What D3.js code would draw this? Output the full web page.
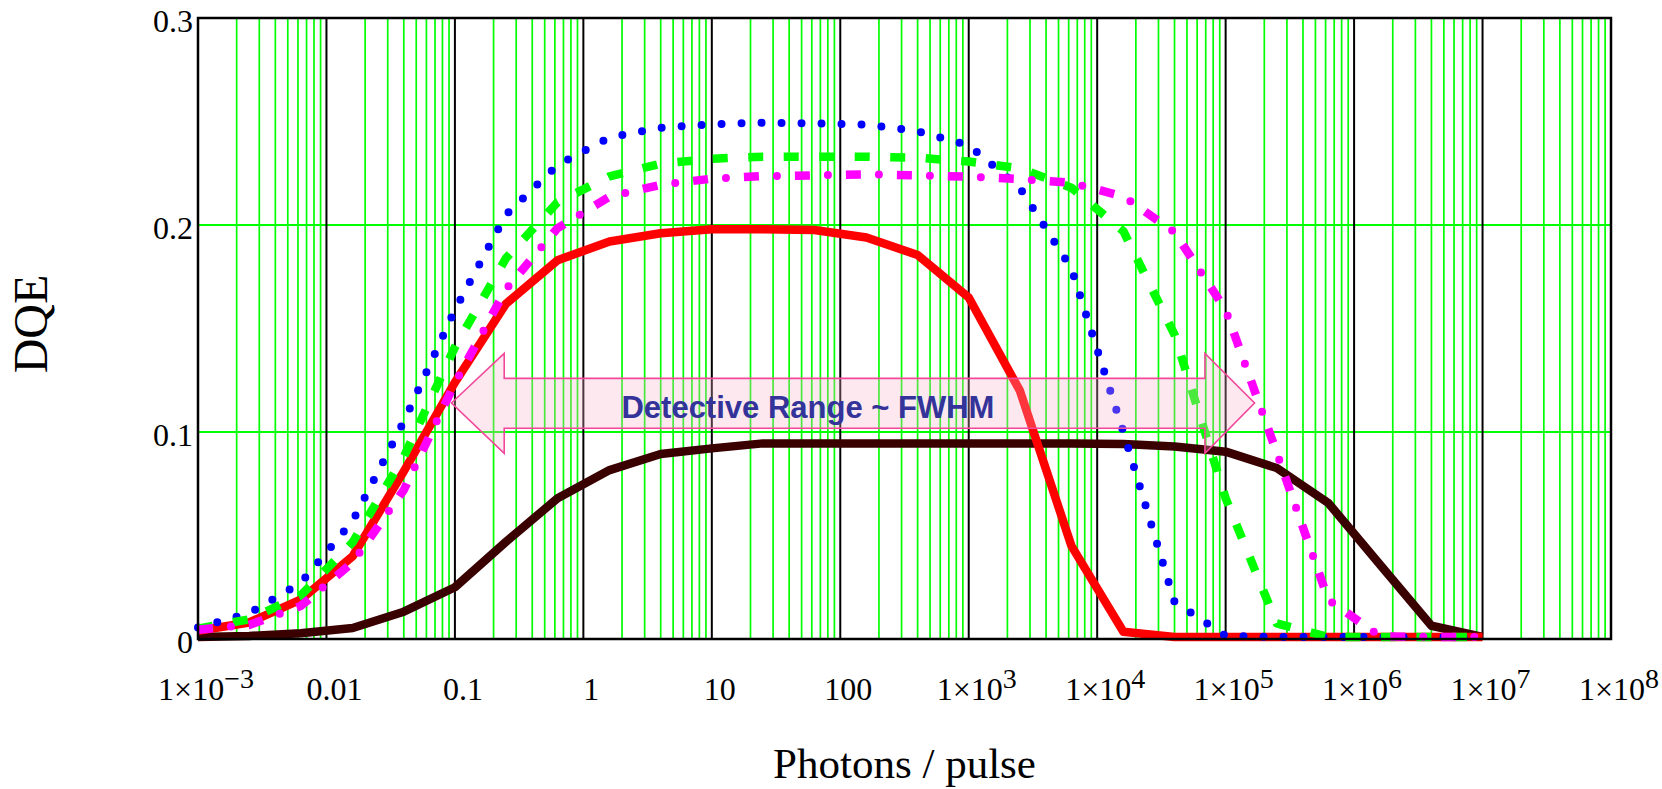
<!DOCTYPE html>
<html>
<head>
<meta charset="utf-8">
<script src="https://cdn.jsdelivr.net/npm/d3@7"></script>
<style>
  html, body { margin: 0; padding: 0; background: #fff; }
  #chart { width: 1662px; height: 789px; }
  .chart__tick { font-family: "Liberation Serif", "Times New Roman", serif; font-size: 32px; fill: #000; }
  .chart__title { font-family: "Liberation Serif", "Times New Roman", serif; fill: #000; }
  .chart__note { font-family: "Liberation Sans", Arial, sans-serif; font-weight: bold; font-size: 31px; fill: #333399; }
</style>
</head>
<body>
<div id="chart"></div>
<script>
// Photons per pulse (x values shared by every curve)
const photons = [0.001, 0.0025, 0.0063, 0.016, 0.04, 0.1, 0.25, 0.63, 1.6, 4, 10, 25, 63, 160,
    400, 1000, 2500, 6300, 16000, 40000, 100000, 250000, 630000, 1600000, 4000000, 10000000];

// DQE curves
const dqeRed = [0.004, 0.008, 0.019, 0.040, 0.081, 0.124, 0.162, 0.183, 0.192, 0.196, 0.198, 0.198, 0.1976,
    0.194, 0.1855, 0.165, 0.120, 0.045, 0.0035, 0.001, 0.001, 0.001, 0.001, 0.001, 0.001, 0.001];
const dqeBrown = [0.001, 0.0015, 0.0028, 0.0053, 0.0132, 0.025, 0.047, 0.068, 0.0816, 0.0894, 0.0921, 0.0945, 0.0945,
    0.0945, 0.0945, 0.0945, 0.0945, 0.0945, 0.0942, 0.093, 0.0905, 0.0826, 0.0657, 0.0357, 0.0064, 0.001];
const dqeBlue = [0.0055, 0.0124, 0.027, 0.057, 0.105, 0.159, 0.205, 0.229, 0.2423, 0.247, 0.2487, 0.2494, 0.2491,
    0.2485, 0.2453, 0.2385, 0.218, 0.179, 0.100, 0.018, 0.0015, 0.001, 0.001, 0.001, 0.001, 0.001];
const dqeGreen = [0.005, 0.0095, 0.021, 0.0467, 0.088, 0.141, 0.184, 0.211, 0.2235, 0.2296, 0.232, 0.233, 0.233,
    0.233, 0.2325, 0.2307, 0.2273, 0.218, 0.197, 0.147, 0.068, 0.0075, 0.001, 0.001, 0.001, 0.001];
const dqeMagenta = [0.0045, 0.0068, 0.0159, 0.037, 0.072, 0.1236, 0.169, 0.1985, 0.2137, 0.2194, 0.2224, 0.2236, 0.224,
    0.2245, 0.224, 0.2233, 0.2222, 0.2204, 0.2138, 0.1965, 0.159, 0.090, 0.019, 0.0012, 0.001, 0.001];

// Axes
const xTickValues = [1e-3, 1e-2, 1e-1, 1, 10, 100, 1e3, 1e4, 1e5, 1e6, 1e7, 1e8];
const xTickLabels = ['1×10^−3', '0.01', '0.1', '1', '10', '100', '1×10^3', '1×10^4', '1×10^5', '1×10^6', '1×10^7', '1×10^8'];
const yTickValues = [0, 0.1, 0.2, 0.3];
const yTickLabels = ['0', '0.1', '0.2', '0.3'];

// Detective range arrow, in data units: [left tip, left head base, right head base, right tip]
const rangeX = [0.094, 0.242, 69000, 168000];
// [head bottom, shaft bottom, centre, shaft top, head top]
const rangeY = [0.0897, 0.1018, 0.114, 0.1259, 0.138];
const rangeLabel = 'Detective Range ~ FWHM';
const rangeLabelAt = [56, 0.1068];

const cfg = {
    width: 1662, height: 789,
    margin: {top: 18, right: 51, bottom: 150, left: 198},
};
const innerW = cfg.width - cfg.margin.left - cfg.margin.right;
const innerH = cfg.height - cfg.margin.top - cfg.margin.bottom;

const x = d3.scaleLog().domain([1e-3, 1e8]).range([0, innerW]);
const y = d3.scaleLinear().domain([0, 0.3]).range([innerH, 0]);

const svg = d3.select('#chart').append('svg')
    .attr('width', cfg.width)
    .attr('height', cfg.height)
    .attr('viewBox', `0 0 ${cfg.width} ${cfg.height}`);

svg.append('rect').attr('width', cfg.width).attr('height', cfg.height).attr('fill', '#fff');

const g = svg.append('g')
    .attr('transform', `translate(${cfg.margin.left},${cfg.margin.top})`);

// Minor vertical grid (2..9 in each decade)
const minor = [];
for (let k = -3; k < 8; k++) for (let m = 2; m <= 9; m++) minor.push(m * Math.pow(10, k));

g.append('g').selectAll('line')
    .data(minor)
    .join('line')
    .attr('x1', d => x(d)).attr('x2', d => x(d))
    .attr('y1', 0).attr('y2', innerH)
    .attr('stroke', '#00ff00')
    .attr('stroke-width', 1.7);

// Horizontal grid
g.append('g').selectAll('line')
    .data(yTickValues.slice(1, -1))
    .join('line')
    .attr('x1', 0).attr('x2', innerW)
    .attr('y1', d => y(d)).attr('y2', d => y(d))
    .attr('stroke', '#00ff00')
    .attr('stroke-width', 2);

// Decade lines
g.append('g').selectAll('line')
    .data(xTickValues.slice(1, -1))
    .join('line')
    .attr('x1', d => x(d)).attr('x2', d => x(d))
    .attr('y1', 0).attr('y2', innerH)
    .attr('stroke', '#000')
    .attr('stroke-width', 2);

// Curves
const line = d3.line()
    .x((d, i) => x(photons[i]))
    .y(d => y(d));

const series = [
    {values: dqeBrown, color: '#3a0000', width: 8.5},
    {values: dqeRed, color: '#ff0000', width: 8.5},
    {values: dqeBlue, color: '#0000ff', width: 8, dash: '0 20', cap: 'round'},
    {values: dqeGreen, color: '#00ff00', width: 8.5, dash: '15 20.5'},
    {values: dqeMagenta, color: '#ff00ff', width: 8.5, dash: '15 36'},
    {values: dqeMagenta, color: '#ff00ff', width: 8, dash: '0 51', offset: 18, cap: 'round'},
];

g.append('g').selectAll('path')
    .data(series)
    .join('path')
    .attr('d', d => line(d.values))
    .attr('fill', 'none')
    .attr('stroke', d => d.color)
    .attr('stroke-width', d => d.width)
    .attr('stroke-linejoin', 'round')
    .attr('stroke-linecap', d => d.cap || 'butt')
    .attr('stroke-dasharray', d => d.dash || null)
    .attr('stroke-dashoffset', d => d.offset || 0);

// Frame
g.append('rect')
    .attr('width', innerW).attr('height', innerH)
    .attr('fill', 'none')
    .attr('stroke', '#000')
    .attr('stroke-width', 2.5);

// Double arrow for the detective range
const [xl0, xl1, xr1, xr0] = rangeX.map(v => x(v));
const [yHb, ySb, yC, ySt, yHt] = rangeY.map(v => y(v));
const arrowPts = [
    [xl0, yC], [xl1, yHt], [xl1, ySt], [xr1, ySt], [xr1, yHt], [xr0, yC],
    [xr1, yHb], [xr1, ySb], [xl1, ySb], [xl1, yHb],
];
g.append('path')
    .attr('d', 'M' + arrowPts.map(p => p.join(',')).join('L') + 'Z')
    .attr('fill', 'rgb(248,178,206)')
    .attr('fill-opacity', 0.3)
    .attr('stroke', '#f2479a')
    .attr('stroke-width', 1.6);

g.append('text')
    .attr('class', 'chart__note')
    .attr('x', x(rangeLabelAt[0]))
    .attr('y', y(rangeLabelAt[1]))
    .attr('text-anchor', 'middle')
    .text(rangeLabel);

// Y tick labels
g.append('g').selectAll('text')
    .data(yTickValues)
    .join('text')
    .attr('class', 'chart__tick')
    .attr('x', -5)
    .attr('y', d => y(d) + 14)
    .attr('text-anchor', 'end')
    .text((d, i) => yTickLabels[i]);

// X tick labels, with superscript exponents
const xt = g.append('g').selectAll('text')
    .data(xTickValues)
    .join('text')
    .attr('class', 'chart__tick')
    .attr('x', d => x(d) + 8)
    .attr('y', innerH + 61)
    .attr('text-anchor', 'middle');

xt.each(function(d, i) {
    const parts = xTickLabels[i].split('^');
    const t = d3.select(this);
    t.append('tspan').text(parts[0]);
    if (parts[1]) t.append('tspan').attr('dy', -12).attr('font-size', 28).text(parts[1]);
});

// Axis titles
g.append('text')
    .attr('class', 'chart__title')
    .attr('font-size', 48)
    .attr('text-anchor', 'middle')
    .attr('transform', `translate(${47 - cfg.margin.left},${324 - cfg.margin.top}) rotate(-90)`)
    .text('DQE');

g.append('text')
    .attr('class', 'chart__title')
    .attr('font-size', 43)
    .attr('text-anchor', 'middle')
    .attr('x', innerW / 2)
    .attr('y', 778 - cfg.margin.top)
    .text('Photons / pulse');
</script>
</body>
</html>
